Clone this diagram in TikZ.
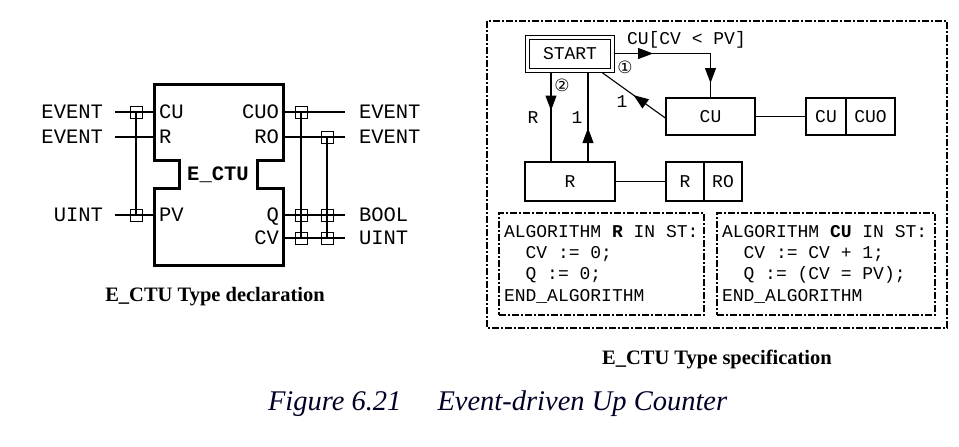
\documentclass[tikz,border=0pt]{standalone}
\usepackage{fontspec}
\setmainfont{Liberation Serif}
\setmonofont{Liberation Mono}
\newfontfamily\circfont{DejaVu Sans}
\usetikzlibrary{arrows.meta,decorations.markings}
\newcommand\monospacing{\frenchspacing\spaceskip=0.6em\xspaceskip=0.6em\relax}
\begin{document}
\begin{tikzpicture}[x=1pt,y=-1pt,
  >={Triangle[length=15pt,width=11pt]},
  every node/.style={inner sep=0pt, outer sep=0pt},
  thinln/.style={line width=1.1pt},
  port/.style={draw, line width=1pt, minimum size=12pt},
  lbl/.style={font=\ttfamily\fontsize{20.5}{24}\selectfont, text height=13pt, text depth=0pt},
  rl/.style={font=\ttfamily\fontsize{18}{21.5}\selectfont\monospacing, text height=11.5pt, text depth=0pt},
  box/.style={draw, line width=1.1pt, rl, minimum height=37pt},
  dashdot/.style={dash pattern=on 7pt off 2pt on 2pt off 2pt},
  algbox/.style={draw, dashdot, line width=1.8pt, font=\ttfamily\fontsize{18}{21.3}\selectfont, align=left, inner xsep=5pt},
  circ/.style={font=\fontsize{17}{18}\selectfont\circfont},
  capt/.style={font=\fontsize{20.5}{24}\selectfont\bfseries}
]
\useasboundingbox (0,0) rectangle (959,447);

% ---------------- left: type declaration ----------------
\draw[line width=3pt, line join=miter] (154,84) -- (283,84) -- (283,160) -- (257,160) -- (257,188) -- (283,188) -- (283,265) -- (154,265) -- (154,188) -- (179,188) -- (179,160) -- (154,160) -- cycle;

\coordinate (pCU) at (154,112);
\coordinate (pR)  at (154,137);
\coordinate (pPV) at (154,215);
\coordinate (pCUO) at (283,112);
\coordinate (pRO)  at (283,137);
\coordinate (pQ)   at (283,215);
\coordinate (pCV)  at (283,238);
\coordinate (xCU) at (115,112);
\coordinate (xR)  at (115,137);
\coordinate (xPV) at (115,215);
\coordinate (xCUO) at (345,112);
\coordinate (xRO)  at (345,137);
\coordinate (xQ)   at (345,215);
\coordinate (xCV)  at (345,238);

\draw[thinln] (xCU) -- (pCU);
\draw[thinln] (xR) -- (pR);
\draw[thinln] (xPV) -- (pPV);
\draw[thinln] (pCUO) -- (xCUO);
\draw[thinln] (pRO) -- (xRO);
\draw[thinln] (pQ) -- (xQ);
\draw[thinln] (pCV) -- (xCV);

\node[port] (sqCU) at (136,112) {};
\node[port] (sqPV) at (136,215) {};
\node[port] (sqCUO) at (301,112) {};
\node[port] (sqQa) at (301,215) {};
\node[port] (sqCVa) at (301,238) {};
\node[port] (sqRO) at (327,137) {};
\node[port] (sqQb) at (327,215) {};
\node[port] (sqCVb) at (327,238) {};
\draw[thinln] (sqCU.center) -- (sqPV.center);
\draw[thinln] (sqCUO.center) -- (sqCVa.center);
\draw[thinln] (sqRO.center) -- (sqCVb.center);

\node[lbl, anchor=east] (tEv1) at (103,112) {EVENT};
\node[lbl, anchor=east] (tEv2) at (103,137) {EVENT};
\node[lbl, anchor=east] (tUi1) at (103,215) {UINT};
\node[lbl, anchor=west] (tEv3) at (359,112) {EVENT};
\node[lbl, anchor=west] (tEv4) at (359,137) {EVENT};
\node[lbl, anchor=west] (tBo)  at (359,215) {BOOL};
\node[lbl, anchor=west] (tUi2) at (359,238) {UINT};

\node[lbl, anchor=west] (iCU) at (159,112) {CU};
\node[lbl, anchor=west] (iR)  at (159,137) {R};
\node[lbl, anchor=west] (iPV) at (159,215) {PV};
\node[lbl, anchor=east] (iCUO) at (279,112) {CUO};
\node[lbl, anchor=east] (iRO)  at (279,137) {RO};
\node[lbl, anchor=east] (iQ)   at (279,215) {Q};
\node[lbl, anchor=east] (iCV)  at (279,238) {CV};
\node[lbl, font=\ttfamily\bfseries\fontsize{20.5}{24}\selectfont] (iName) at (218,174) {E\_CTU};

\node[capt] (capL) at (215,297) {E\_CTU Type declaration};

% ---------------- right: type specification ----------------
\draw[dashdot, line width=2pt] (487,21) rectangle (947,328);

\node[rl, draw, double, double distance=3pt, line width=1pt, minimum width=85pt, minimum height=33pt, outer sep=2.5pt] (start) at (570,53.5) {START};
\node[box, minimum width=89pt] (cu) at (710.5,116.5) {CU};
\node[box, minimum width=40pt] (aCU) at (826,116.5) {CU};
\node[box, minimum width=49pt] (aCUO) at (870.5,116.5) {CUO};
\node[box, minimum width=90pt, minimum height=39pt] (rb) at (570,181.5) {R};
\node[box, minimum width=38pt, minimum height=39pt] (aR) at (685,181.5) {R};
\node[box, minimum width=38pt, minimum height=39pt] (aRO) at (723,181.5) {RO};

\draw[thinln, postaction={decorate}, decoration={markings,
   mark=at position 38pt with {\arrow{>}},
   mark=at position 125pt with {\arrow{>}}}]
   (start.east) -| (cu.north);
\draw[thinln, postaction={decorate}, decoration={markings,
   mark=at position 40pt with {\arrow{>}}}]
   ([yshift=-2pt]cu.west) -- ([xshift=-13pt]start.south east);
\draw[thinln, postaction={decorate}, decoration={markings,
   mark=at position 38pt with {\arrow{>}}}]
   ([xshift=-19pt]start.south) -- ([xshift=-19pt]rb.north);
\draw[thinln, postaction={decorate}, decoration={markings,
   mark=at position 34pt with {\arrow{>}}}]
   ([xshift=18pt]rb.north) -- ([xshift=18pt]start.south);
\draw[thinln] (cu.east) -- (aCU.west);
\draw[thinln] (rb.east) -- (aR.west);

\node[rl, anchor=west] (guard) at (627,39) {CU[CV < PV]};
\node[circ] (c1) at (625,67) {①};
\node[circ] (c2) at (562,85) {②};
\node[rl] (one1) at (622,102) {1};
\node[rl] (lR) at (533,118) {R};
\node[rl] (one2) at (577,118) {1};

\node[algbox, minimum width=205pt, minimum height=102pt, text width=195pt] (algR) at (601.5,264)
 {\monospacing ALGORITHM \textbf{R} IN ST:\\\hspace*{1.2em}CV := 0;\\\hspace*{1.2em}Q := 0;\\END\_ALGORITHM};
\node[algbox, minimum width=218pt, minimum height=102pt, text width=208pt] (algCU) at (826,264)
 {\monospacing ALGORITHM \textbf{CU} IN ST:\\\hspace*{1.2em}CV := CV + 1;\\\hspace*{1.2em}Q := (CV = PV);\\END\_ALGORITHM};

\node[capt] (capR) at (717,359) {E\_CTU Type specification};

\node[anchor=base west, font=\fontsize{28.5}{31}\selectfont\itshape, text=black!85!blue] (fig) at (268,410)
 {Figure 6.21\hspace{36pt}Event-driven Up Counter};
\end{tikzpicture}
\end{document}
